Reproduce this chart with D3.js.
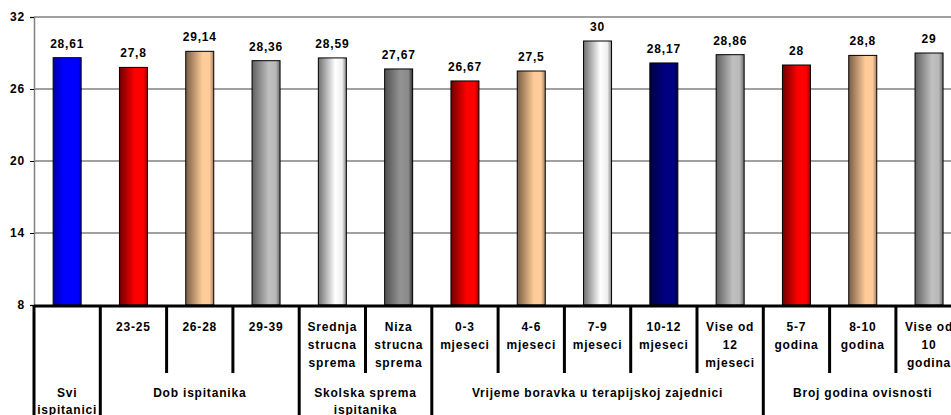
<!DOCTYPE html>
<html><head><meta charset="utf-8">
<script src="https://cdn.jsdelivr.net/npm/d3@7"></script>
<style>
html,body{margin:0;padding:0;background:#fff;}
svg text{font-family:Arial,"Liberation Sans",sans-serif;font-weight:bold;font-size:12px;letter-spacing:0.8px;fill:#000;}
</style></head>
<body><svg id="chart" width="951" height="415"></svg>
<script>
// ---- data ----
const categoryLines = [
  [], ["23-25"], ["26-28"], ["29-39"],
  ["Srednja","strucna","sprema"], ["Niza","strucna","sprema"],
  ["0-3","mjeseci"], ["4-6","mjeseci"], ["7-9","mjeseci"], ["10-12","mjeseci"], ["Vise od","12","mjeseci"],
  ["5-7","godina"], ["8-10","godina"], ["Vise od","10","godina"]
];
const values = [28.61, 27.8, 29.14, 28.36, 28.59, 27.67, 26.67, 27.5, 30, 28.17, 28.86, 28, 28.8, 29];
const valueLabels = ["28,61","27,8","29,14","28,36","28,59","27,67","26,67","27,5","30","28,17","28,86","28","28,8","29"];
const barColors = ["blue","red","peach","silver","white","dgray","red","peach","white","navy","silver","red","peach","silver"];
const groupNames = [["Svi","ispitanici"],["Dob ispitanika"],["Skolska sprema","ispitanika"],["Vrijeme boravka u terapijskoj zajednici"],["Broj godina ovisnosti"]];
const groupSizes = [1,3,2,5,3];
const yTicks = [8,14,20,26,32];

// ---- layout ----
const svg = d3.select("#chart");
const plotLeft = 34, catW = 66.3, plotTop = 17, plotBottom = 305;
const x = d3.scaleBand().domain(d3.range(values.length)).range([plotLeft, plotLeft + catW*values.length]).paddingInner(0).paddingOuter(0);
const y = d3.scaleLinear().domain([8,32]).range([plotBottom, plotTop]);
const barW = 28;

const gradDefs = {
  blue:  [["0%","#0000a0"],["35%","#0000ff"],["90%","#0000ff"],["100%","#0000c0"]],
  red:   [["0%","#700000"],["55%","#ff0000"],["85%","#ff0000"],["100%","#a00000"]],
  peach: [["0%","#7a5e44"],["60%","#ffcc99"],["85%","#ffcc99"],["100%","#a08060"]],
  silver:[["0%","#606060"],["60%","#c0c0c0"],["85%","#b8b8b8"],["100%","#686868"]],
  white: [["0%","#707070"],["60%","#ffffff"],["85%","#f0f0f0"],["100%","#808080"]],
  dgray: [["0%","#505050"],["55%","#939393"],["85%","#8a8a8a"],["100%","#303030"]],
  navy:  [["0%","#000040"],["50%","#000080"],["85%","#000080"],["100%","#000040"]]
};
const defs = svg.append("defs");
Object.entries(gradDefs).forEach(([k, stops]) => {
  const g = defs.append("linearGradient").attr("id","g-"+k).attr("x1","0").attr("x2","1").attr("y1","0").attr("y2","0");
  stops.forEach(s => g.append("stop").attr("offset", s[0]).attr("stop-color", s[1]));
});

// gridlines
svg.append("g").selectAll("line").data(yTicks.filter(t => t > 8)).join("line")
  .attr("x1", plotLeft).attr("x2", 951).attr("y1", d => y(d)).attr("y2", d => y(d))
  .attr("stroke", "#808080").attr("stroke-width", 1.5);

// y axis
const yAxis = d3.axisLeft(y).tickValues(yTicks).tickSize(4).tickPadding(5).tickFormat(d3.format("d"));
const ya = svg.append("g").attr("transform", `translate(${plotLeft},0)`).call(yAxis);
ya.select(".domain").attr("stroke", "#808080").attr("stroke-width", 1.5);
ya.selectAll(".tick line").attr("stroke", "#000");
ya.selectAll(".tick text").style("font-size","12px").style("font-weight","bold").attr("font-family", null);

// bars
svg.append("g").selectAll("rect").data(values).join("rect")
  .attr("x", (d,i) => x(i) + x.bandwidth()/2 - barW/2)
  .attr("width", barW)
  .attr("y", d => y(d))
  .attr("height", d => y(8) - y(d))
  .attr("fill", (d,i) => `url(#g-${barColors[i]})`)
  .attr("stroke", "#000").attr("stroke-width", 1);

// value labels
svg.append("g").selectAll("text").data(values).join("text")
  .attr("x", (d,i) => x(i) + x.bandwidth()/2)
  .attr("y", d => y(d) - 10)
  .attr("text-anchor", "middle")
  .text((d,i) => valueLabels[i]);

// category axis
const ax = svg.append("g");
ax.append("line").attr("x1", plotLeft).attr("x2", 951).attr("y1", 306).attr("y2", 306)
  .attr("stroke", "#000").attr("stroke-width", 3);

let bounds = [0];
groupSizes.forEach(s => bounds.push(bounds[bounds.length-1] + s));
const groupStart = new Set(bounds);
d3.range(values.length + 1).forEach(i => {
  const xx = i < values.length ? x(i) : x(values.length-1) + x.bandwidth();
  const isGroup = groupStart.has(i);
  ax.append("line").attr("x1", xx).attr("x2", xx).attr("y1", 305).attr("y2", isGroup ? 415 : 373)
    .attr("stroke", "#000").attr("stroke-width", 3);
});

categoryLines.forEach((lines, i) => {
  const t = ax.append("text").attr("text-anchor","middle");
  lines.forEach((ln, j) => {
    t.append("tspan").attr("x", x(i) + x.bandwidth()/2).attr("y", 331 + j*18).text(ln);
  });
});

groupNames.forEach((lines, gi) => {
  const s = bounds[gi], e = bounds[gi+1];
  const cx = (x(s) + x(e-1) + x.bandwidth())/2;
  const t = ax.append("text").attr("text-anchor","middle");
  lines.forEach((ln, j) => {
    t.append("tspan").attr("x", cx).attr("y", 397 + j*17).text(ln);
  });
});
</script>
</body></html>
